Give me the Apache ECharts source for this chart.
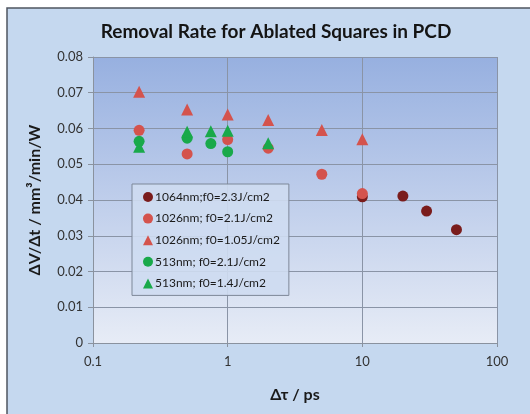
<!DOCTYPE html>
<html><head><meta charset="utf-8">
<script src="https://cdn.jsdelivr.net/npm/echarts@6/dist/echarts.min.js"></script>
<style>html,body{margin:0;padding:0;background:#fff}#c{width:530px;height:414px}</style>
</head><body><div id="c"></div>
<script>
const titleText = 'Removal Rate for Ablated Squares in PCD';
const xName = 'Δτ / ps';
const yName = 'ΔV/Δt / mm³/min/W';
const seriesNames = ['1064nm;f0=2.3J/cm2','1026nm; f0=2.1J/cm2','1026nm; f0=1.05J/cm2','513nm; f0=2.1J/cm2','513nm; f0=1.4J/cm2'];
const s1064_x = [10, 20, 30, 50];
const s1064_y = [0.0409, 0.0411, 0.0369, 0.0317];
const s1026a_x = [0.22, 0.5, 1, 2, 5, 10];
const s1026a_y = [0.0595, 0.0529, 0.0569, 0.0545, 0.0472, 0.0418];
const s1026b_x = [0.22, 0.5, 1, 2, 5, 10];
const s1026b_y = [0.0703, 0.0653, 0.0639, 0.0624, 0.0596, 0.0570];
const s513a_x = [0.22, 0.5, 0.75, 1];
const s513a_y = [0.0564, 0.0573, 0.0558, 0.0535];
const s513b_x = [0.22, 0.5, 0.75, 1, 2];
const s513b_y = [0.0549, 0.0591, 0.0592, 0.0594, 0.0559];
const xTicks = [0.1, 1, 10, 100];

const colors = ['#7a1c1c','#d4534d','#d4534d','#19a94a','#19a94a'];
const symbols = ['circle','circle','triangle','circle','triangle'];
const xs = [s1064_x, s1026a_x, s1026b_x, s513a_x, s513b_x];
const ys = [s1064_y, s1026a_y, s1026b_y, s513a_y, s513b_y];
const font = 'Lato, "Liberation Sans", sans-serif';

const chart = echarts.init(document.getElementById('c'), null, {renderer:'canvas'});
chart.setOption({
  backgroundColor: '#ffffff',
  animation: false,
  graphic: [{
    type: 'rect', z: -10, silent: true,
    shape: {x: 7, y: 8, width: 530, height: 420},
    style: {fill: '#c5d8ef', stroke: '#4f5560', lineWidth: 1.5}
  }],
  title: {
    text: titleText, left: 271, top: 17, textAlign: 'center',
    textStyle: {fontFamily: font, fontWeight: 'bold', fontSize: 19, color: '#141414'}
  },
  grid: {
    left: 93, right: 33, top: 57, bottom: 71, show: true, borderWidth: 0,
    backgroundColor: new echarts.graphic.LinearGradient(0,0,0,1,[
      {offset:0, color:'#97b0e0'},{offset:1, color:'#e7ecf6'}])
  },
  legend: {
    orient: 'vertical', left: 132, top: 184,
    padding: [7, 9, 6, 11], itemGap: 9.6, itemWidth: 10, itemHeight: 10,
    backgroundColor: 'rgba(206,220,241,0.9)', borderColor: '#7d8798', borderWidth: 1,
    textStyle: {fontFamily: font, fontSize: 12, color: '#1a1a1a', padding:[0,0,0,-3]},
    data: seriesNames.map((n,i)=>({name:n, icon:symbols[i]}))
  },
  xAxis: {
    type: 'log', logBase: 10, min: 0.1, max: 100,
    name: xName, nameLocation: 'middle', nameGap: 44,
    nameTextStyle: {fontFamily: font, fontWeight: 'bold', fontSize: 16, color: '#1a1a1a'},
    axisLine: {show: true, onZero: false, lineStyle: {color: '#8a929e'}},
    axisTick: {show: true, length: 4, lineStyle: {color: '#8a929e'}},
    minorTick: {show: false},
    splitLine: {show: true, lineStyle: {color: '#8a94a6', width: 1}},
    axisLabel: {fontFamily: font, fontSize: 13, color: '#333', margin: 12,
      formatter: v => { const t = xTicks.find(k => Math.abs(k - v) / k < 1e-6); return t === undefined ? '' : String(t); }}
  },
  yAxis: {
    type: 'value', min: 0, max: 0.08, interval: 0.01,
    name: yName, nameLocation: 'middle', nameGap: 50, nameRotate: 90,
    nameTextStyle: {fontFamily: font, fontWeight: 'bold', fontSize: 16, color: '#1a1a1a'},
    axisLine: {show: true, lineStyle: {color: '#8a929e'}},
    axisTick: {show: true, length: 5, lineStyle: {color: '#8a929e'}},
    splitLine: {show: true, lineStyle: {color: '#8a94a6', width: 1}},
    axisLabel: {fontFamily: font, fontSize: 13, color: '#333', margin: 10,
      formatter: v => v === 0 ? '0' : v.toFixed(2)}
  },
  series: seriesNames.map((n,i)=>({
    name: n, type: 'scatter', symbol: symbols[i],
    symbolSize: symbols[i] === 'circle' ? 11 : 12,
    itemStyle: {color: colors[i], opacity: 1},
    data: xs[i].map((x,j)=>[x, ys[i][j]])
  }))
});
</script></body></html>
